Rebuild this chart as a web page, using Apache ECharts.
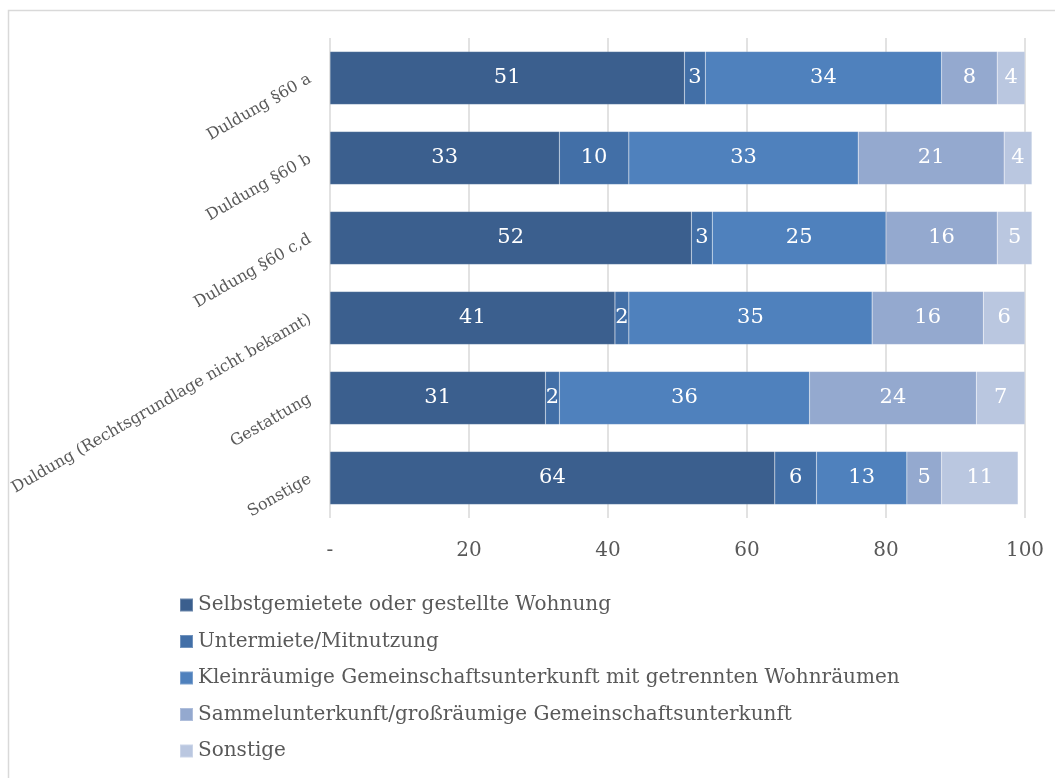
<!DOCTYPE html>
<html>
<head>
<meta charset="utf-8">
<script src="https://cdn.jsdelivr.net/npm/echarts@6/dist/echarts.min.js"></script>
<style>
  html, body { margin: 0; padding: 0; background: #ffffff; }
  #chart { width: 1055px; height: 778px; }
</style>
</head>
<body>
<div id="chart"></div>
<script>
// Aufenthaltsstatus (Kategorien) und Wohnform-Anteile in Prozent
const categories = [
  'Duldung §60 a',
  'Duldung §60 b',
  'Duldung §60 c,d',
  'Duldung (Rechtsgrundlage nicht bekannt)',
  'Gestattung',
  'Sonstige'
];
const seriesNames = [
  'Selbstgemietete oder gestellte Wohnung',
  'Untermiete/Mitnutzung',
  'Kleinräumige Gemeinschaftsunterkunft mit getrennten Wohnräumen',
  'Sammelunterkunft/großräumige Gemeinschaftsunterkunft',
  'Sonstige'
];
const selbstgemietet = [51, 33, 52, 41, 31, 64];
const untermiete     = [3, 10, 3, 2, 2, 6];
const kleinraeumig   = [34, 33, 25, 35, 36, 13];
const sammel         = [8, 21, 16, 16, 24, 5];
const sonstige       = [4, 4, 5, 6, 7, 11];
const xTicks = [0, 20, 40, 60, 80, 100];

const colors = ['#3B5F8E', '#426FA7', '#4F81BD', '#94A9CF', '#BAC7E0'];
const values = [selbstgemietet, untermiete, kleinraeumig, sammel, sonstige];
const FONT = 'DejaVu Serif';
const GREY = '#595959';

const chart = echarts.init(document.getElementById('chart'), null, { renderer: 'canvas' });

chart.setOption({
  animation: false,
  backgroundColor: '#ffffff',
  color: colors,
  textStyle: { fontFamily: FONT },
  graphic: [{
    type: 'rect',
    shape: { x: 8.5, y: 10.5, width: 1200, height: 900 },
    style: { fill: 'none', stroke: '#D9D9D9', lineWidth: 1.5 },
    silent: true
  }],
  grid: { left: 330, right: 30, top: 38, height: 480, containLabel: false },
  legend: {
    orient: 'vertical',
    left: 174,
    top: 590,
    padding: 5,
    itemWidth: 13,
    itemHeight: 13,
    itemGap: 16.5,
    icon: 'rect',
    textStyle: { color: GREY, fontSize: 20, fontFamily: FONT },
    data: seriesNames
  },
  xAxis: {
    type: 'value',
    min: xTicks[0],
    max: xTicks[xTicks.length - 1],
    interval: 20,
    axisLine: { show: false },
    axisTick: { show: false },
    splitLine: { show: true, lineStyle: { color: '#D9D9D9', width: 1.5 } },
    axisLabel: {
      color: GREY,
      fontSize: 20,
      fontFamily: FONT,
      margin: 23,
      formatter: v => (v === 0 ? '-' : String(v))
    }
  },
  yAxis: {
    type: 'category',
    inverse: true,
    data: categories,
    axisLine: { show: false },
    axisTick: { show: false },
    axisLabel: {
      color: GREY,
      fontSize: 16,
      fontFamily: FONT,
      rotate: 30,
      margin: 20
    }
  },
  series: seriesNames.map((name, i) => ({
    name: name,
    type: 'bar',
    stack: 'gesamt',
    barWidth: 53,
    clip: false,
    data: values[i],
    itemStyle: { color: colors[i], borderColor: 'rgba(255,255,255,0.25)', borderWidth: 0.5 },
    label: {
      show: true,
      position: 'inside',
      color: '#ffffff',
      fontSize: 21,
      fontFamily: FONT
    }
  }))
});
</script>
</body>
</html>
